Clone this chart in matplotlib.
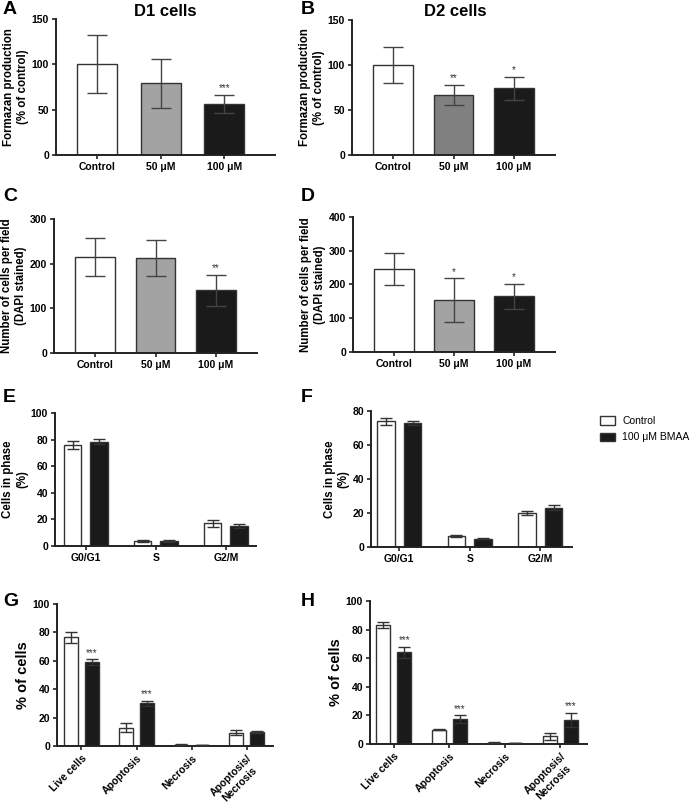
import matplotlib.pyplot as plt
import numpy as np

plt.rcParams['font.family'] = ['Liberation Sans', 'DejaVu Sans']

# --- data ---
dose_labels = ['Control', '50 \u03bcM', '100 \u03bcM']

a_mean = [100, 79, 56]
a_err = [32, 27, 10]
a_stars = ['', '', '***']

b_mean = [100, 67, 74]
b_err = [20, 11, 13]
b_stars = ['', '**', '*']

c_mean = [215, 213, 140]
c_err = [43, 40, 35]
c_stars = ['', '', '**']

d_mean = [246, 153, 165]
d_err = [48, 65, 37]
d_stars = ['', '*', '*']

phase_labels = ['G0/G1', 'S', 'G2/M']
e_ctrl = [76, 4, 17]
e_ctrl_err = [3, 0.7, 2.5]
e_bmaa = [78.5, 3.5, 15]
e_bmaa_err = [2, 0.7, 1.8]

f_ctrl = [74, 6.5, 20]
f_ctrl_err = [2, 0.5, 1]
f_bmaa = [73, 5, 23]
f_bmaa_err = [1, 0.5, 1.5]

death_labels = ['Live cells', 'Apoptosis', 'Necrosis', 'Apoptosis/\nNecrosis']
g_ctrl = [76.5, 13, 1, 9.5]
g_ctrl_err = [4, 3, 0.2, 1.5]
g_bmaa = [59, 30, 0.8, 10]
g_bmaa_err = [2, 2, 0.2, 0.5]
g_stars = ['***', '***', '', '']

h_ctrl = [83, 10, 1, 5.5]
h_ctrl_err = [2, 0.5, 0.2, 2.5]
h_bmaa = [64, 17.5, 0.8, 17]
h_bmaa_err = [4, 2.5, 0.2, 5]
h_stars = ['***', '***', '', '***']

W, H = 699, 805
fig = plt.figure(figsize=(W / 100, H / 100), dpi=100)


def make_ax(x0, x1, ytop, ybot):
    return fig.add_axes([x0 / W, 1 - ybot / H, (x1 - x0) / W, (ybot - ytop) / H])


def style(ax, ymax, step, ylabel, ysize=8.3):
    for s in ['top', 'right']:
        ax.spines[s].set_visible(False)
    for s in ['left', 'bottom']:
        ax.spines[s].set_linewidth(1.4)
        ax.spines[s].set_color('#222222')
    ax.set_ylim(0, ymax)
    ax.set_yticks(np.arange(0, ymax + 1, step))
    ax.tick_params(axis='both', length=3, width=1.2, labelsize=7.5, color='#222222', pad=2)
    for t in ax.get_xticklabels() + ax.get_yticklabels():
        t.set_fontweight('bold')
    ax.set_ylabel(ylabel, fontsize=ysize, fontweight='bold', linespacing=1.2, labelpad=2)


def dose_panel(ax, means, errs, stars, mid_color, ymax, step, ylabel, width=0.66, xlim=(-0.68, 2.68)):
    x = np.arange(len(means))
    colors = ['white', mid_color, '#1a1a1a']
    ax.bar(x, means, width=width, color=colors, edgecolor='#333333', linewidth=1.0, zorder=2)
    ax.errorbar(x, means, yerr=errs, fmt='none', ecolor='#444444', elinewidth=1.0,
                capsize=7, capthick=1.0, zorder=3)
    for xi, m, e, s in zip(x, means, errs, stars):
        if s:
            ax.text(xi, m + e + ymax * 0.012, s, ha='center', va='bottom', fontsize=7, color='#333333')
    ax.set_xticks(x)
    ax.set_xticklabels(dose_labels)
    ax.set_xlim(*xlim)
    style(ax, ymax, step, ylabel)


def group_panel(ax, ctrl, ctrl_err, bmaa, bmaa_err, labels, ymax, step, ylabel,
                xlim, stars=None, rotate=False, ysize=8.3):
    x = np.arange(len(ctrl))
    off = 0.19
    wd = 0.25
    b1 = ax.bar(x - off, ctrl, width=wd, color='white', edgecolor='#333333', linewidth=1.0, zorder=2,
                label='Control')
    b2 = ax.bar(x + off, bmaa, width=wd, color='#1a1a1a', edgecolor='#333333', linewidth=1.0, zorder=2,
                label='100 \u03bcM BMAA')
    ax.errorbar(x - off, ctrl, yerr=ctrl_err, fmt='none', ecolor='#333333', elinewidth=1.0,
                capsize=4.5, capthick=1.0, zorder=3)
    ax.errorbar(x + off, bmaa, yerr=bmaa_err, fmt='none', ecolor='#333333', elinewidth=1.0,
                capsize=4.5, capthick=1.0, zorder=3)
    if stars:
        for xi, m, e, s in zip(x, bmaa, bmaa_err, stars):
            if s:
                ax.text(xi + off, m + e + ymax * 0.01, s, ha='center', va='bottom', fontsize=7,
                        color='#333333')
    ax.set_xticks(x)
    ax.set_xlim(*xlim)
    if rotate:
        ax.set_xticklabels(labels, rotation=45, ha='right', rotation_mode='anchor',
                           multialignment='center', linespacing=1.3)
    else:
        ax.set_xticklabels(labels)
    style(ax, ymax, step, ylabel, ysize)
    return b1, b2


ax_a = make_ax(56, 275, 19, 155)
dose_panel(ax_a, a_mean, a_err, a_stars, '#a3a3a3', 150, 50, 'Formazan production\n(% of control)',
           width=0.63, xlim=(-0.65, 2.8))
ax_b = make_ax(352, 555, 20, 155)
dose_panel(ax_b, b_mean, b_err, b_stars, '#808080', 150, 50, 'Formazan production\n(% of control)')
ax_c = make_ax(54, 257, 219, 353)
dose_panel(ax_c, c_mean, c_err, c_stars, '#a3a3a3', 300, 100, 'Number of cells per field\n(DAPI stained)')
ax_d = make_ax(353, 555, 217, 352)
dose_panel(ax_d, d_mean, d_err, d_stars, '#a3a3a3', 400, 100, 'Number of cells per field\n(DAPI stained)')

ax_e = make_ax(55, 256, 413, 546)
group_panel(ax_e, e_ctrl, e_ctrl_err, e_bmaa, e_bmaa_err, phase_labels, 100, 20,
            'Cells in phase\n(%)', xlim=(-0.44, 2.43))
ax_f = make_ax(371, 572, 411, 547)
h1, h2 = group_panel(ax_f, f_ctrl, f_ctrl_err, f_bmaa, f_bmaa_err, phase_labels, 80, 20,
                     'Cells in phase\n(%)', xlim=(-0.40, 2.45))

ax_g = make_ax(57, 273, 604, 746)
group_panel(ax_g, g_ctrl, g_ctrl_err, g_bmaa, g_bmaa_err, death_labels, 100, 20, '% of cells',
            xlim=(-0.445, 3.48), stars=g_stars, rotate=True, ysize=10.5)
ax_h = make_ax(370, 587, 601, 744)
group_panel(ax_h, h_ctrl, h_ctrl_err, h_bmaa, h_bmaa_err, death_labels, 100, 20, '% of cells',
            xlim=(-0.43, 3.48), stars=h_stars, rotate=True, ysize=10.5)

fig.legend([h1, h2], ['Control', '100 \u03bcM BMAA'], loc='upper left',
           bbox_to_anchor=(594 / W, 1 - 410 / H), frameon=False, fontsize=7.5,
           handlelength=1.4, handleheight=0.9, handletextpad=0.7, labelspacing=0.6,
           borderaxespad=0.2)

# titles and panel letters
fig.text(165 / W, 1 - 11 / H, 'D1 cells', ha='center', va='center', fontsize=12, fontweight='bold')
fig.text(455 / W, 1 - 11 / H, 'D2 cells', ha='center', va='center', fontsize=12, fontweight='bold')
letters = [('A', 3, 10), ('B', 301, 10), ('C', 3, 196), ('D', 301, 196),
           ('E', 3, 397), ('F', 301, 397), ('G', 3, 601), ('H', 301, 601)]
for lab, lx, ly in letters:
    fig.text(lx / W, 1 - ly / H, lab, ha='left', va='center', fontsize=14, fontweight='bold')

fig.savefig('out.png', dpi=100, facecolor='white')
